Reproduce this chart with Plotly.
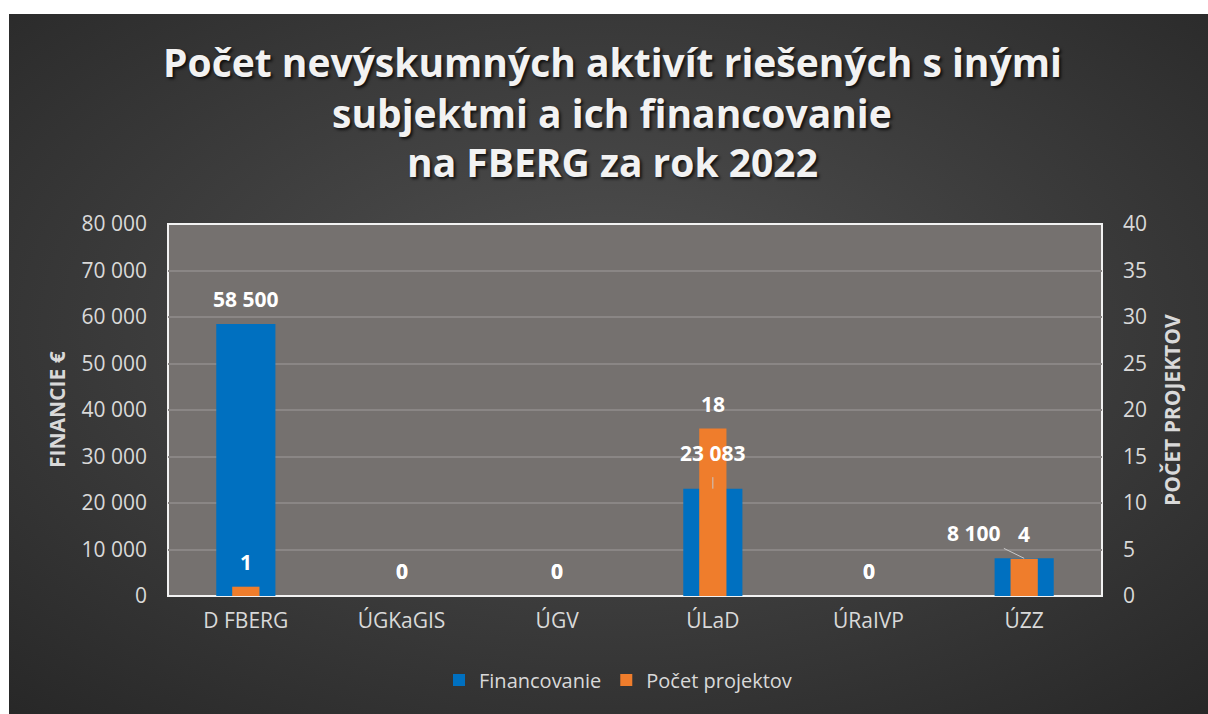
import plotly.graph_objects as go

categories = ["D FBERG", "ÚGKaGIS", "ÚGV", "ÚLaD", "ÚRaIVP", "ÚZZ"]
financovanie = [58500, 0, 0, 23083, 0, 8100]
pocet_projektov = [1, 0, 0, 18, 0, 4]
y1_ticks = [0, 10000, 20000, 30000, 40000, 50000, 60000, 70000, 80000]
y2_ticks = [0, 5, 10, 15, 20, 25, 30, 35, 40]
title_lines = ["Počet nevýskumných aktivít riešených s inými",
               "subjektmi a ich financovanie",
               "na FBERG za rok 2022"]
y1_title = "FINANCIE €"
y2_title = "POČET PROJEKTOV"

BLUE = "#0070c0"
ORANGE = "#ef7d2c"
TXT = "#d9d9d9"
FONT = "Open Sans"

W, H = 1208, 714
L, R, T, B = 168, 106, 224, 118
PW, PH = W - L - R, H - T - B
BG_X0, BG_Y0 = 9, 14  # white frame strips of the original picture


def fmt(v):
    return f"{v:,}".replace(",", " ")


fig = go.Figure()
fig.add_trace(go.Bar(x=categories, y=financovanie, name="Financovanie",
                     marker=dict(color=BLUE, line=dict(width=0)),
                     width=0.38, yaxis="y"))
fig.add_trace(go.Bar(x=categories, y=pocet_projektov, name="Počet projektov",
                     marker=dict(color=ORANGE, line=dict(width=0)),
                     width=0.175, yaxis="y2"))

annotations = []
# title lines
for i, line in enumerate(title_lines):
    ypix = 62 + 50 * i
    annotations.append(dict(text=f"<b>{line}</b>", xref="paper", yref="paper",
                            x=(612 - L) / PW,
                            y=(H - B - ypix) / PH, xanchor="center", yanchor="middle",
                            showarrow=False,
                            font=dict(family=FONT, size=39, color="#f2f2f2",
                                      shadow="2px 2px 3px rgba(0,0,0,0.75)")))

# axis titles
ax_font = dict(family=FONT, size=21, color=TXT)
annotations.append(dict(text=f"<b>{y1_title}</b>", xref="paper", yref="paper",
                        x=(57 - L) / PW, y=0.5, textangle=-90, showarrow=False,
                        xanchor="center", yanchor="middle", font=ax_font))
annotations.append(dict(text=f"<b>{y2_title}</b>", xref="paper", yref="paper",
                        x=(1172 - L) / PW, y=0.5, textangle=-90, showarrow=False,
                        xanchor="center", yanchor="middle", font=ax_font))

lab_font = dict(family=FONT, size=21, color="#ffffff", weight="bold")
for c, v in zip(categories, financovanie):
    if c == "ÚLaD":
        annotations.append(dict(text=fmt(v), x=c, y=v, xref="x", yref="y",
                                showarrow=True, arrowhead=0, arrowwidth=1,
                                arrowcolor="#c8c8c8", ax=0, ay=-36,
                                startstandoff=9, standoff=0, font=lab_font))
    elif c == "ÚZZ":
        annotations.append(dict(text=fmt(v), x=c, y=v, xref="x", yref="y",
                                showarrow=True, arrowhead=0, arrowwidth=1,
                                arrowcolor="#c8c8c8", ax=-51, ay=-25,
                                startstandoff=3, standoff=0, font=lab_font))
    else:
        annotations.append(dict(text=fmt(v), x=c, y=v, xref="x", yref="y",
                                showarrow=False, yshift=25, font=lab_font))
for c, v in zip(categories, pocet_projektov):
    annotations.append(dict(text=fmt(v), x=c, y=v, xref="x", yref="y2",
                            showarrow=False, yshift=25, font=lab_font))

bw, bh = W - BG_X0, H - BG_Y0
bg_svg = ("data:image/svg+xml;utf8,"
          f"<svg xmlns='http://www.w3.org/2000/svg' width='{bw}' height='{bh}' "
          "preserveAspectRatio='none'>"
          "<defs><radialGradient id='g' cx='50%' cy='45%' r='75%'>"
          "<stop offset='0' stop-color='%23525252'/>"
          "<stop offset='1' stop-color='%23272727'/>"
          "</radialGradient></defs>"
          f"<rect width='{bw}' height='{bh}' fill='url(%23g)'/></svg>")

fig.update_layout(
    width=W, height=H,
    margin=dict(l=L, r=R, t=T, b=B, pad=0),
    paper_bgcolor="#ffffff",
    plot_bgcolor="rgba(0,0,0,0)",
    barmode="overlay",
    separators=", ",
    font=dict(family=FONT, color=TXT, size=18),
    annotations=annotations,
    images=[dict(source=bg_svg, xref="paper", yref="paper",
                 x=(BG_X0 - L) / PW, y=(H - B - BG_Y0) / PH,
                 sizex=bw / PW, sizey=bh / PH,
                 xanchor="left", yanchor="top", sizing="stretch", layer="below")],
    shapes=[dict(type="rect", xref="paper", yref="paper", x0=0, x1=1, y0=0, y1=1,
                 fillcolor="#75716f", line=dict(color="#f2f2f2", width=2),
                 layer="below")],
    xaxis=dict(showgrid=False, zeroline=False, showline=False,
               tickfont=dict(family=FONT, size=21, color=TXT),
               ticklabelstandoff=10),
    yaxis=dict(range=[0, 80000], tickvals=y1_ticks, tickformat=",d",
               showgrid=True, gridcolor="#8a8685", gridwidth=2,
               zeroline=False, showline=False,
               tickfont=dict(family=FONT, size=21, color=TXT),
               ticklabelstandoff=20),
    yaxis2=dict(range=[0, 40], tickvals=y2_ticks, overlaying="y", side="right",
                showgrid=False, zeroline=False, showline=False,
                tickfont=dict(family=FONT, size=21, color=TXT),
                ticklabelstandoff=20),
    legend=dict(orientation="h", x=(618 - L) / PW, xanchor="center",
                y=(H - B - 680) / PH, yanchor="middle",
                font=dict(family=FONT, size=20, color=TXT),
                bgcolor="rgba(0,0,0,0)", itemwidth=30),
    showlegend=True,
)

fig.write_html("out.html",
               config={"displayModeBar": False},
               post_script="document.body.style.margin='0';"
                           "document.body.style.overflow='hidden';")
